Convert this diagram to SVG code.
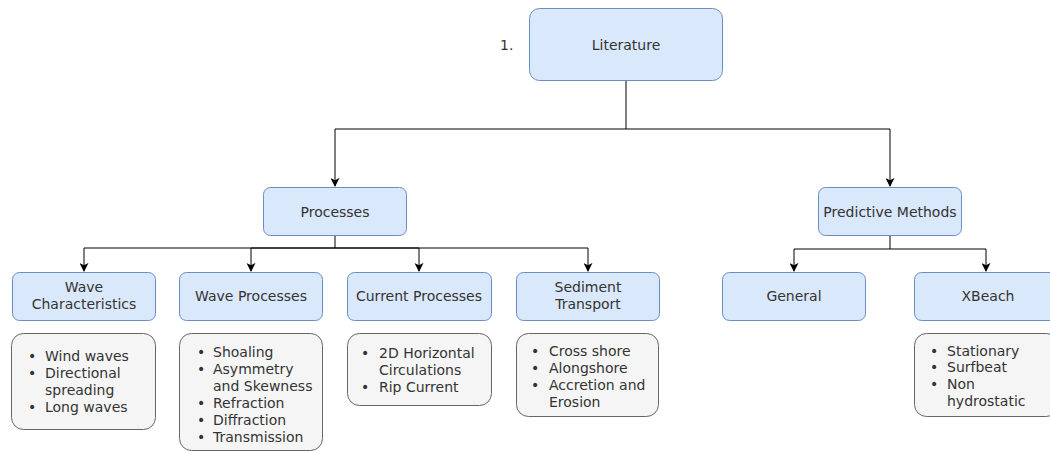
<svg xmlns="http://www.w3.org/2000/svg" width="1050" height="452" viewBox="0 0 1050 452">
<defs>
<marker id="arr" viewBox="0 0 10 10" refX="9" refY="5" markerWidth="9" markerHeight="9" markerUnits="userSpaceOnUse" orient="auto">
<path d="M0,0 L10,5 L0,10 L2.5,5 Z" fill="#000"/>
</marker>
</defs>
<style>
.hd{fill:#dae8fc;stroke:#6c8ebf;stroke-width:1}
.ls{fill:#f5f5f5;stroke:#666666;stroke-width:1}
text{font-family:"DejaVu Sans",Verdana,sans-serif;font-size:14px;fill:#333333}
.c{text-anchor:middle}
.con{fill:none;stroke:#000;stroke-width:1}
</style>
<rect width="1050" height="452" fill="#ffffff"/>
<g id="connectors">
<path class="con" d="M626,81 V129 H335 V186" marker-end="url(#arr)"/>
<path class="con" d="M626,129 H890 V186" marker-end="url(#arr)"/>
<path class="con" d="M335,236 V248 H84 V271" marker-end="url(#arr)"/>
<path class="con" d="M335,248 H251 V271" marker-end="url(#arr)"/>
<path class="con" d="M335,248 H419 V271" marker-end="url(#arr)"/>
<path class="con" d="M335,248 H588 V271" marker-end="url(#arr)"/>
<path class="con" d="M890,236 V249 H794 V271" marker-end="url(#arr)"/>
<path class="con" d="M890,249 H986 V271" marker-end="url(#arr)"/>
</g>
<g id="label-1"><text x="500" y="50">1.</text></g>
<g id="literature"><rect class="hd" x="529.5" y="8.5" width="193" height="72" rx="10"/><text class="c" x="626" y="50">Literature</text></g>
<g id="processes"><rect class="hd" x="263.5" y="187.5" width="143" height="48" rx="7"/><text class="c" x="335" y="217">Processes</text></g>
<g id="predictive"><rect class="hd" x="818.5" y="187.5" width="143" height="48" rx="7"/><text class="c" x="890" y="217">Predictive Methods</text></g>
<g id="wave-char"><rect class="hd" x="12.5" y="272.5" width="143" height="48" rx="7"/><text class="c" x="84" y="292">Wave</text><text class="c" x="84" y="309">Characteristics</text></g>
<g id="wave-proc"><rect class="hd" x="179.5" y="272.5" width="143" height="48" rx="7"/><text class="c" x="251" y="301">Wave Processes</text></g>
<g id="current-proc"><rect class="hd" x="347.5" y="272.5" width="144" height="48" rx="7"/><text class="c" x="419" y="301">Current Processes</text></g>
<g id="sediment"><rect class="hd" x="516.5" y="272.5" width="143" height="48" rx="7"/><text class="c" x="588" y="292">Sediment</text><text class="c" x="588" y="309">Transport</text></g>
<g id="general"><rect class="hd" x="722.5" y="272.5" width="143" height="48" rx="7"/><text class="c" x="794" y="301">General</text></g>
<g id="xbeach"><rect class="hd" x="914.5" y="272.5" width="143" height="48" rx="7"/><text class="c" x="988" y="301">XBeach</text></g>
<g id="wave-char-list"><rect class="ls" x="11.5" y="333.5" width="144" height="96" rx="12"/>
<text x="28" y="361">•</text><text x="45" y="361">Wind waves</text>
<text x="28" y="378">•</text><text x="45" y="378">Directional</text>
<text x="45" y="395">spreading</text>
<text x="28" y="412">•</text><text x="45" y="412">Long waves</text></g>
<g id="wave-proc-list"><rect class="ls" x="179.5" y="333.5" width="143" height="117" rx="12"/>
<text x="197" y="357">•</text><text x="213" y="357">Shoaling</text>
<text x="197" y="374">•</text><text x="213" y="374">Asymmetry</text>
<text x="213" y="391">and Skewness</text>
<text x="197" y="408">•</text><text x="213" y="408">Refraction</text>
<text x="197" y="425">•</text><text x="213" y="425">Diffraction</text>
<text x="197" y="442">•</text><text x="213" y="442">Transmission</text></g>
<g id="current-list"><rect class="ls" x="347.5" y="333.5" width="144" height="72" rx="12"/>
<text x="361" y="358">•</text><text x="379" y="358">2D Horizontal</text>
<text x="379" y="375">Circulations</text>
<text x="361" y="392">•</text><text x="379" y="392">Rip Current</text></g>
<g id="sediment-list"><rect class="ls" x="516.5" y="333.5" width="142" height="83" rx="12"/>
<text x="531" y="356">•</text><text x="549" y="356">Cross shore</text>
<text x="531" y="373">•</text><text x="549" y="373">Alongshore</text>
<text x="531" y="390">•</text><text x="549" y="390">Accretion and</text>
<text x="549" y="407">Erosion</text></g>
<g id="xbeach-list"><rect class="ls" x="914.5" y="333.5" width="144" height="83" rx="12"/>
<text x="930" y="356">•</text><text x="947" y="356">Stationary</text>
<text x="930" y="372">•</text><text x="947" y="372">Surfbeat</text>
<text x="930" y="389">•</text><text x="947" y="389">Non</text>
<text x="947" y="406">hydrostatic</text></g>
</svg>
